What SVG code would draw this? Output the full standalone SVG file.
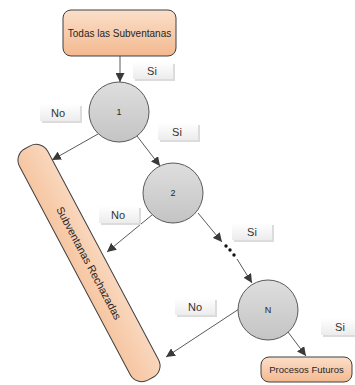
<svg xmlns="http://www.w3.org/2000/svg" width="355" height="385" viewBox="0 0 355 385">
  <defs>
    <linearGradient id="peach" x1="0" y1="0" x2="0" y2="1">
      <stop offset="0" stop-color="#fbdfc9"/>
      <stop offset="1" stop-color="#f3b990"/>
    </linearGradient>
    <linearGradient id="peachBar" x1="0" y1="0" x2="1" y2="0">
      <stop offset="0" stop-color="#f6c6a2"/>
      <stop offset="1" stop-color="#f9d7bd"/>
    </linearGradient>
    <linearGradient id="grey" x1="0" y1="0" x2="0" y2="1">
      <stop offset="0" stop-color="#dedede"/>
      <stop offset="1" stop-color="#c4c4c4"/>
    </linearGradient>
    <linearGradient id="tag" x1="0" y1="0" x2="0" y2="1">
      <stop offset="0" stop-color="#ffffff"/>
      <stop offset="1" stop-color="#ececec"/>
    </linearGradient>
    <marker id="arrow" viewBox="0 0 10 10" refX="10" refY="5" markerWidth="9" markerHeight="9" markerUnits="userSpaceOnUse" orient="auto">
      <path d="M0,0 L10,5 L0,10 Z" fill="#3a3a3a"/>
    </marker>
  </defs>
  <style>
    .box { fill: url(#peach); stroke: #404040; stroke-width: 1; }
    .circle { fill: url(#grey); stroke: #5a5a5a; stroke-width: 1; }
    .txt { font-family: "Liberation Sans", Arial, sans-serif; fill: #262626; text-anchor: middle; dominant-baseline: central; }
    .tagShadow { fill: #dcdcdc; }
    .tagBox { fill: url(#tag); }
    .tagTxt { font-family: "Liberation Sans", Arial, sans-serif; font-size: 11px; fill: #333333; text-anchor: middle; dominant-baseline: central; }
    .conn { stroke: #5a5a5a; stroke-width: 1; fill: none; }
    .dot { fill: #111111; }
  </style>

  <rect width="355" height="385" fill="#ffffff"/>

  <!-- connectors -->
  <g id="connectors">
    <line class="conn" x1="120" y1="56" x2="120" y2="82" marker-end="url(#arrow)"/>
    <line class="conn" x1="98" y1="134" x2="52" y2="160" marker-end="url(#arrow)"/>
    <line class="conn" x1="137" y1="136" x2="160" y2="166" marker-end="url(#arrow)"/>
    <line class="conn" x1="152" y1="215" x2="107" y2="252" marker-end="url(#arrow)"/>
    <line class="conn" x1="198" y1="213" x2="222" y2="242" marker-end="url(#arrow)"/>
    <circle class="dot" cx="226" cy="246" r="1.7"/>
    <circle class="dot" cx="230" cy="250" r="1.7"/>
    <circle class="dot" cx="234" cy="255" r="1.7"/>
    <line class="conn" x1="237" y1="259" x2="252" y2="283" marker-end="url(#arrow)"/>
    <line class="conn" x1="239" y1="309" x2="166" y2="357" marker-end="url(#arrow)"/>
    <line class="conn" x1="288" y1="332" x2="306" y2="356" marker-end="url(#arrow)"/>
  </g>

  <!-- start box -->
  <g id="todas">
    <rect class="box" x="63" y="10" width="113" height="46" rx="8"/>
    <text class="txt" x="119.5" y="33" font-size="10">Todas las Subventanas</text>
  </g>

  <!-- rejected bar -->
  <g id="rechazadas" transform="translate(89 263) rotate(-28)">
    <rect x="-16" y="-131" width="32" height="262" rx="13" fill="url(#peachBar)" stroke="#404040" stroke-width="1"/>
    <text class="txt" x="0" y="0" font-size="10.8" transform="rotate(90)">Subventanas Rechazadas</text>
  </g>

  <!-- decision nodes -->
  <g id="n1">
    <circle class="circle" cx="119" cy="112" r="30"/>
    <text class="txt" x="119" y="112" font-size="9">1</text>
  </g>
  <g id="n2">
    <circle class="circle" cx="173" cy="193" r="30"/>
    <text class="txt" x="173" y="193" font-size="9">2</text>
  </g>
  <g id="nN">
    <circle class="circle" cx="268" cy="310" r="30"/>
    <text class="txt" x="268" y="310" font-size="9">N</text>
  </g>

  <!-- end box -->
  <g id="procesos">
    <rect class="box" x="261" y="357" width="91" height="25" rx="8"/>
    <text class="txt" x="306.5" y="369.5" font-size="9.5">Procesos Futuros</text>
  </g>

  <!-- branch tags -->
  <g id="tag-si-1">
    <rect class="tagShadow" x="135" y="64" width="40" height="17"/>
    <rect class="tagBox" x="133" y="62" width="40" height="17"/>
    <text class="tagTxt" x="152" y="70.5">Si</text>
  </g>
  <g id="tag-no-1">
    <rect class="tagShadow" x="42" y="106" width="40" height="17"/>
    <rect class="tagBox" x="40" y="104" width="40" height="17"/>
    <text class="tagTxt" x="58" y="112.5">No</text>
  </g>
  <g id="tag-si-2">
    <rect class="tagShadow" x="160" y="125" width="40" height="17"/>
    <rect class="tagBox" x="158" y="123" width="40" height="17"/>
    <text class="tagTxt" x="177" y="131.5">Si</text>
  </g>
  <g id="tag-no-2">
    <rect class="tagShadow" x="101" y="208" width="40" height="17"/>
    <rect class="tagBox" x="99" y="206" width="40" height="17"/>
    <text class="tagTxt" x="118" y="214.5">No</text>
  </g>
  <g id="tag-si-3">
    <rect class="tagShadow" x="234" y="225" width="40" height="17"/>
    <rect class="tagBox" x="232" y="223" width="40" height="17"/>
    <text class="tagTxt" x="252" y="231.5">Si</text>
  </g>
  <g id="tag-no-3">
    <rect class="tagShadow" x="177" y="300" width="40" height="17"/>
    <rect class="tagBox" x="175" y="298" width="40" height="17"/>
    <text class="tagTxt" x="195" y="306.5">No</text>
  </g>
  <g id="tag-si-4">
    <rect class="tagShadow" x="323" y="320" width="40" height="17"/>
    <rect class="tagBox" x="321" y="318" width="40" height="17"/>
    <text class="tagTxt" x="340" y="326.5">Si</text>
  </g>
</svg>
